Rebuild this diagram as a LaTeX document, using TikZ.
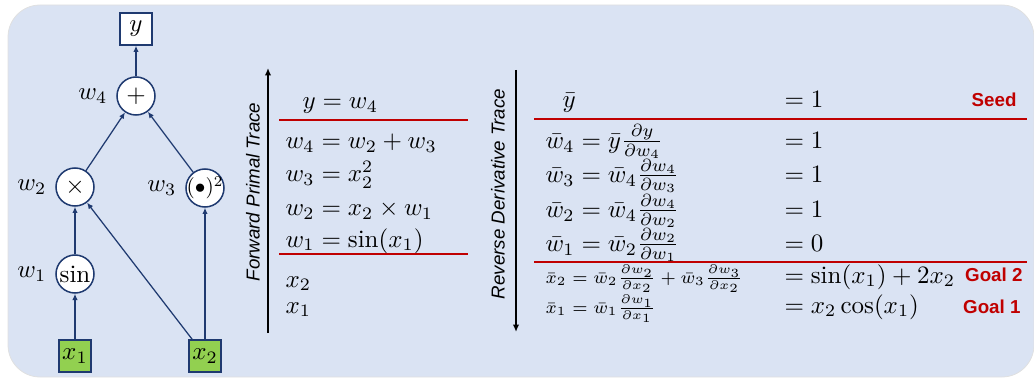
\documentclass[tikz,border=0pt]{standalone}
\usepackage{amsmath}
\usepackage{graphicx}
\usepackage{fontspec}
\usetikzlibrary{arrows.meta}
\newfontfamily\labelfont{Liberation Sans}
\definecolor{panelblue}{HTML}{DAE3F3}
\definecolor{navy}{HTML}{1F3A70}
\definecolor{leaf}{HTML}{92D050}
\definecolor{tracered}{HTML}{C00000}
% partial derivative as an inline fraction, raised a touch
\newcommand{\pdfrac}[2]{\raisebox{0.5pt}{$\frac{\partial #1}{\partial #2}$}}

\begin{document}
\begin{tikzpicture}[x=0.4pt, y=-0.4pt,
    op/.style={circle, draw=navy, fill=white, line width=0.6pt, minimum size=15.2pt, inner sep=0pt},
    outbox/.style={draw=navy, fill=white, line width=0.6pt, minimum size=12.8pt, inner sep=0pt},
    inbox/.style={outbox, fill=leaf},
    edge/.style={navy, line width=0.5pt, -{Latex[length=2.5pt,width=2.2pt]}},
    row/.style={anchor=base west, inner sep=0pt},
    small row/.style={row, font=\fontsize{7.5}{9}\selectfont},
    sep/.style={tracered, line width=0.8pt},
    axis/.style={black, line width=0.6pt, -{Latex[length=3pt,width=2.6pt]}},
    axis label/.style={rotate=90, font=\labelfont\itshape\fontsize{7.5}{9}\selectfont},
    tag/.style={anchor=base east, inner sep=0pt, tracered, font=\labelfont\bfseries\fontsize{7.5}{9}\selectfont}]
    \useasboundingbox (0,0) rectangle (1034,379);
    % Panel in the background
    \fill[panelblue, draw=black!12, line width=0.3pt, rounded corners=12.8pt] (8,5) rectangle (1034,377);

    % Computational graph
    \node[outbox] (y) at (136,29) {$y$};
    \node[op, label={left:$w_4$}] (plus) at (136,96) {$+$};
    \node[op, label={left:$w_2$}] (mul) at (75,187) {$\times$};
    \node[op, label={left:$w_3$}] (sq) at (205,188) {\hbox to 0pt{\hss\scalebox{0.85}{$(\bullet)^2$}\hss}};
    \node[op, label={left:$w_1$}] (sin) at (75,274) {$\sin$};
    \node[inbox] (x1) at (75,356) {$x_1$};
    \node[inbox] (x2) at (205,356) {$x_2$};

    \draw[edge] (x1) -- (sin);
    \draw[edge] (sin) -- (mul);
    \draw[edge] (x2) -- (mul);
    \draw[edge] (x2) -- (sq);
    \draw[edge] (mul) -- (plus);
    \draw[edge] (sq) -- (plus);
    \draw[edge] (plus) -- (y);

    % Forward primal trace (read upwards)
    \coordinate (fwdstart) at (268,333);
    \coordinate (fwdend) at (268,68);
    \draw[axis] (fwdstart) -- (fwdend);
    \node[axis label] (fwdlabel) at (253,192) {Forward Primal Trace};

    \node[row] (f0) at (302,109) {$y = w_4$};
    \node[row] (f1) at (285,149) {$w_4 = w_2 + w_3$};
    \node[row] (f2) at (285,182) {$w_3 = x_2^2$};
    \node[row] (f3) at (285,216) {$w_2 = x_2 \times w_1$};
    \node[row] (f4) at (285,247) {$w_1 = \sin(x_1)$};
    \node[row] (f5) at (285,287) {$x_2$};
    \node[row] (f6) at (285,313) {$x_1$};
    \draw[sep] (279,120) -- (468,120);
    \draw[sep] (279,254) -- (468,254);

    % Reverse derivative trace (read downwards)
    \coordinate (revstart) at (516,70);
    \coordinate (revend) at (516,332);
    \draw[axis] (revstart) -- (revend);
    \node[axis label] (revlabel) at (498,194) {Reverse Derivative Trace};

    \node[row] (r0) at (562,108) {$\bar{y}$};
    \node[row] (r1) at (545,149) {$\bar{w}_4 = \bar{y}\pdfrac{y}{w_4}$};
    \node[row] (r2) at (545,183) {$\bar{w}_3 = \bar{w}_4\pdfrac{w_4}{w_3}$};
    \node[row] (r3) at (545,218) {$\bar{w}_2 = \bar{w}_4\pdfrac{w_4}{w_2}$};
    \node[row] (r4) at (545,252) {$\bar{w}_1 = \bar{w}_2\pdfrac{w_2}{w_1}$};
    \node[small row] (r5) at (545,283) {$\bar{x}_2 = \bar{w}_2\frac{\partial w_2}{\partial x_2} + \bar{w}_3\frac{\partial w_3}{\partial x_2}$};
    \node[small row] (r6) at (545,313) {$\bar{x}_1 = \bar{w}_1\frac{\partial w_1}{\partial x_1}$};

    \node[row] (v0) at (784,108) {$= 1$};
    \node[row] (v1) at (784,149) {$= 1$};
    \node[row] (v2) at (784,183) {$= 1$};
    \node[row] (v3) at (784,218) {$= 1$};
    \node[row] (v4) at (784,252) {$= 0$};
    \node[row] (v5) at (784,283) {$= \sin(x_1) + 2x_2$};
    \node[row] (v6) at (784,313) {$= x_2\cos(x_1)$};

    \draw[sep] (534,119) -- (1027,119);
    \draw[sep] (534,262) -- (1027,262);

    \node[tag] (seed) at (1017,107) {Seed};
    \node[tag] (goal2) at (1023,282) {Goal 2};
    \node[tag] (goal1) at (1021,313) {Goal 1};
\end{tikzpicture}
\end{document}
